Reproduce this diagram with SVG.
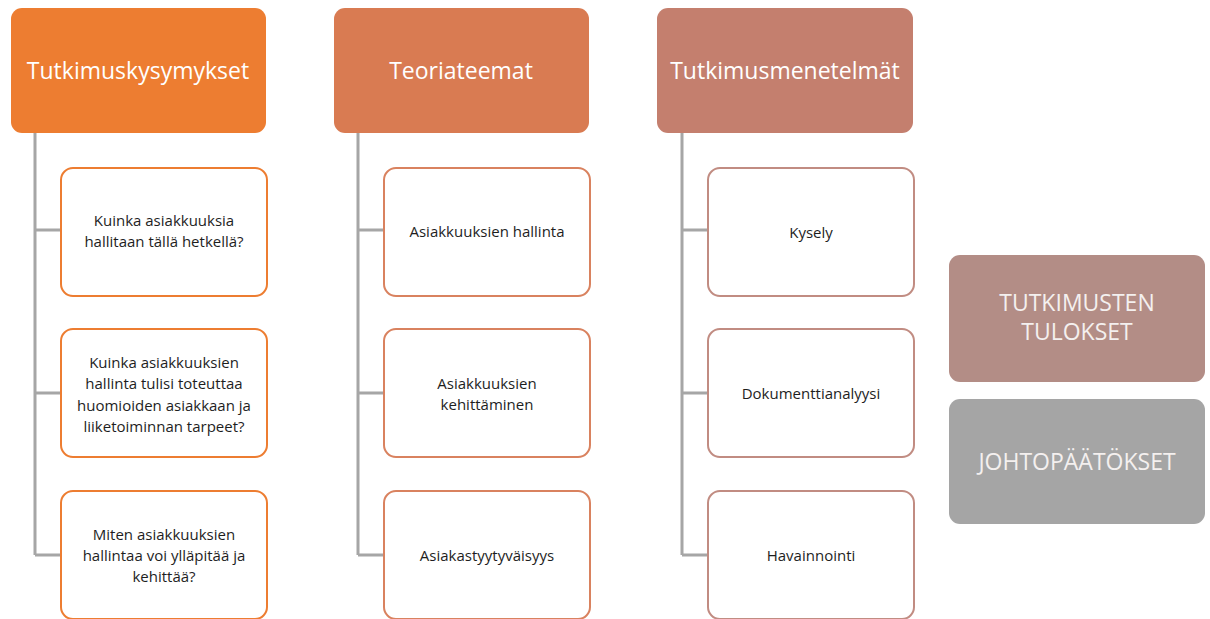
<svg xmlns="http://www.w3.org/2000/svg" width="1210" height="619" viewBox="0 0 1210 619">
<style>
.hdr{font-family:"Open Sans","Liberation Sans",sans-serif;font-size:23px;fill:#FFFFFF;text-anchor:middle;dominant-baseline:central}
.side{font-family:"Open Sans","Liberation Sans",sans-serif;font-size:23px;fill:#F4F0EF;text-anchor:middle;dominant-baseline:central}
.ch{font-family:"Open Sans","Liberation Sans",sans-serif;font-size:15px;fill:#1E1E1E;text-anchor:middle;dominant-baseline:central}
.box{fill:#FFFFFF;stroke-width:2}
.c1{stroke:#ED7D31}.c2{stroke:#D9825F}.c3{stroke:#C18C82}
.conn{stroke:#A6A6A6;stroke-width:3;fill:none}
</style>
<g id="connectors">
<path class="conn" d="M35,132 V555 M35,230 H61 M35,393 H61 M35,555 H61"/>
<path class="conn" d="M358,132 V555 M358,230 H384 M358,393 H384 M358,555 H384"/>
<path class="conn" d="M682,132 V555 M682,230 H708 M682,393 H708 M682,555 H708"/>
</g>
<g id="h1"><rect x="11" y="8" width="255" height="125" rx="11" fill="#ED7D31"/><text class="hdr" x="138" y="70">Tutkimuskysymykset</text></g>
<g id="h2"><rect x="334" y="8" width="255" height="125" rx="11" fill="#D97B52"/><text class="hdr" x="461" y="70">Teoriateemat</text></g>
<g id="h3"><rect x="657" y="8" width="256" height="125" rx="11" fill="#C47F6E"/><text class="hdr" x="785" y="70">Tutkimusmenetelmät</text></g>
<g id="q1"><rect class="box c1" x="61" y="168" width="206" height="128" rx="12"/><text class="ch" x="164" y="220">Kuinka asiakkuuksia</text><text class="ch" x="164" y="241">hallitaan tällä hetkellä?</text></g>
<g id="q2"><rect class="box c1" x="61" y="329" width="206" height="128" rx="12"/><text class="ch" x="164" y="362">Kuinka asiakkuuksien</text><text class="ch" x="164" y="383">hallinta tulisi toteuttaa</text><text class="ch" x="164" y="405">huomioiden asiakkaan ja</text><text class="ch" x="164" y="426">liiketoiminnan tarpeet?</text></g>
<g id="q3"><rect class="box c1" x="61" y="491" width="206" height="128" rx="12"/><text class="ch" x="164" y="534">Miten asiakkuuksien</text><text class="ch" x="164" y="555">hallintaa voi ylläpitää ja</text><text class="ch" x="164" y="576">kehittää?</text></g>
<g id="t1"><rect class="box c2" x="384" y="168" width="206" height="128" rx="12"/><text class="ch" x="487" y="231">Asiakkuuksien hallinta</text></g>
<g id="t2"><rect class="box c2" x="384" y="329" width="206" height="128" rx="12"/><text class="ch" x="487" y="383">Asiakkuuksien</text><text class="ch" x="487" y="404">kehittäminen</text></g>
<g id="t3"><rect class="box c2" x="384" y="491" width="206" height="128" rx="12"/><text class="ch" x="487" y="555">Asiakastyytyväisyys</text></g>
<g id="m1"><rect class="box c3" x="708" y="168" width="206" height="128" rx="12"/><text class="ch" x="811" y="232">Kysely</text></g>
<g id="m2"><rect class="box c3" x="708" y="329" width="206" height="128" rx="12"/><text class="ch" x="811" y="393">Dokumenttianalyysi</text></g>
<g id="m3"><rect class="box c3" x="708" y="491" width="206" height="128" rx="12"/><text class="ch" x="811" y="555">Havainnointi</text></g>
<g id="r1"><rect x="949" y="255" width="256" height="127" rx="11" fill="#B38D86"/><text class="side" x="1077" y="302">TUTKIMUSTEN</text><text class="side" x="1077" y="331">TULOKSET</text></g>
<g id="r2"><rect x="949" y="399" width="256" height="125" rx="11" fill="#A5A5A5"/><text class="side" x="1077" y="461">JOHTOPÄÄTÖKSET</text></g>
</svg>
